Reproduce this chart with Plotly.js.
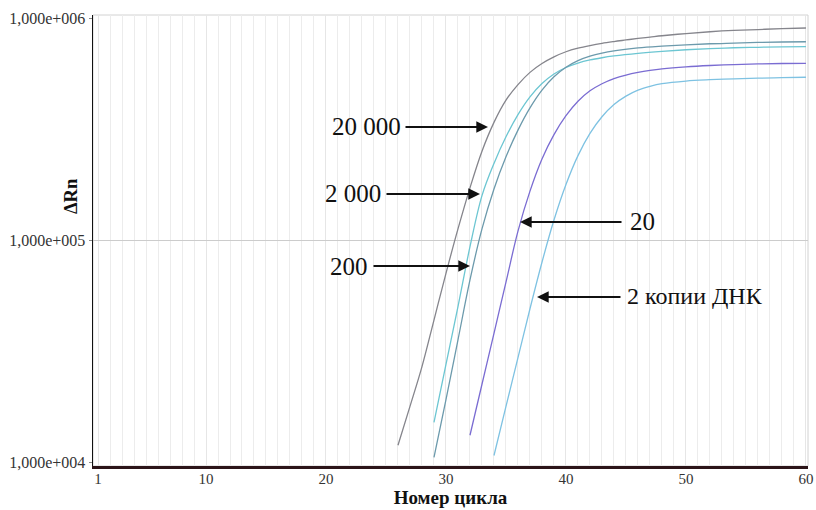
<!DOCTYPE html>
<html><head><meta charset="utf-8">
<script src="https://cdn.plot.ly/plotly-3.0.1.min.js"></script>
<style>html,body{margin:0;padding:0;background:#fff}#chart{width:816px;height:510px}</style>
</head><body><div id="chart"></div>
<script>
// Series: cycle numbers and ΔRn values
const cycles20000 = [26,27,28,29,30,31,32,33,34,35,36,37,38,39,40,41,42,43,44,45,46,47,48,50,52,54,56,58,60];
const rn20000 = [11900,17800,26900,43600,70800,112200,171800,251200,338800,426600,501200,568900,623700,668300,704700,731100,751600,769100,783400,796200,809100,820400,831800,851100,867000,879000,887200,895400,901600];

const cycles2000 = [29,30,31,32,33,34,35,36,37,38,39,40,41,42,43,44,46,48,50,52,54,56,58,60];
const rn2000 = [15100,27500,50100,93300,158500,221300,291700,367300,441600,507000,559800,598400,626600,647100,662200,674500,693400,707900,719400,727800,734500,737900,741300,743000];

const cycles200 = [29,30,31,32,33,34,35,36,37,38,39,40,41,42,43,44,46,48,50,52,54,56,58,60];
const rn200 = [10500,19100,35500,66100,112200,169800,237100,312600,393600,473200,543300,599800,642700,673000,695000,711200,732800,746400,756800,765600,770900,776200,779800,781600];

const cycles20 = [32,33,34,35,36,37,38,39,40,41,42,43,44,45,46,47,48,50,52,54,56,58,60];
const rn20 = [13200,22400,38000,64600,109600,166000,231700,298500,363100,421700,469900,505800,533300,553400,568900,580800,590200,602600,610900,616600,620900,623700,625200];

const cycles2 = [34,35,36,37,38,39,40,41,42,43,44,45,46,47,48,50,52,54,56,58,60];
const rn2 = [10700,17800,29500,49000,79400,123000,177800,239900,302000,358900,407400,444600,473200,492000,505800,520000,527200,532100,535800,538300,540800];

const xTicks = [1,10,20,30,40,50,60];
const yTicks = [1e4,1e5,1e6];
const yTickText = ['1,000e+004','1,000e+005','1,000e+006'];
const labels = ['20 000','2 000','200','20','2 копии ДНК'];

const serif = 'Liberation Serif, Times New Roman, serif';
function mk(x,y,color,ax){
  return {x:x,y:y,yaxis:ax,type:'scatter',mode:'lines',line:{color:color,width:1.3,shape:'spline',smoothing:1},hoverinfo:'skip',showlegend:false};
}
const traces = [
  mk(cycles20000, rn20000, '#85858c','y'),
  mk(cycles2000, rn2000, '#6cc6d2','y2'),
  mk(cycles200, rn200, '#6c9aac','y2'),
  mk(cycles20, rn20, '#7a6cd2','y2'),
  mk(cycles2, rn2, '#7ec2e2','y2')
];

// pixel -> paper helpers (plot area 93..808 x 15..466)
const PX = p => (p-93)/715;
const PY = p => (466-p)/451;

function arrow(tipX,tipY,ax){
  return {xref:'paper',yref:'paper',x:PX(tipX),y:PY(tipY),ax:ax,ay:0,text:'',showarrow:true,
    arrowhead:2,arrowsize:1.3,arrowwidth:1.8,arrowcolor:'#111',standoff:0,startstandoff:0};
}
function label(cx,cy,txt,anchor,size){
  return {xref:'paper',yref:'paper',x:PX(cx),y:PY(cy),text:txt,showarrow:false,xanchor:anchor||'center',yanchor:'middle',
    font:{family:serif,size:size||25,color:'#111'}};
}

const annotations = [
  arrow(488,127,-84), label(366,127,labels[0]),
  arrow(480,194,-95), label(353,193,labels[1]),
  arrow(470,266,-98), label(349,266,labels[2]),
  arrow(520,222,103), label(642,221,labels[3]),
  arrow(537,297,85), label(625,296,labels[4],'left',24),
  {xref:'paper',yref:'paper',x:PX(71),y:PY(196),text:'<b>ΔRn</b>',textangle:-90,showarrow:false,
   xanchor:'center',yanchor:'middle',font:{family:serif,size:18.5,color:'#111'}}
];

const layout = {
  width:816,height:510,
  margin:{l:93,r:8,t:15,b:44},
  paper_bgcolor:'#fff',plot_bgcolor:'#fff',
  showlegend:false,
  xaxis:{range:[0.583,60.17],tickvals:xTicks,ticktext:xTicks.map(String),showgrid:true,gridcolor:'#e6e6e6',
    minor:{dtick:1,tick0:0,showgrid:true,gridcolor:'#ececec',gridwidth:1},
    showline:true,linecolor:'#2b1418',linewidth:3,ticks:'',zeroline:false,ticklabelstandoff:-3,
    tickfont:{family:serif,size:15,color:'#333'},
    title:{text:'<b>Номер цикла</b>',font:{family:serif,size:19,color:'#111'},standoff:4}},
  yaxis:{type:'log',range:[3.982,6.0135],tickvals:yTicks,ticktext:yTickText,showgrid:false,
    showline:true,linecolor:'#111',linewidth:1.5,ticks:'outside',ticklen:3,tickcolor:'#888',zeroline:false,
    tickfont:{family:serif,size:16,color:'#333'}},
  yaxis2:{type:'log',range:[3.982,6.0135],overlaying:'y',tickvals:[1e5],showgrid:true,gridcolor:'#cccccc',
    showticklabels:false,showline:false,zeroline:false,ticks:''},
  shapes:[{type:'rect',xref:'paper',yref:'paper',x0:0,x1:1,y0:0,y1:1,line:{color:'#d2d2d2',width:1},layer:'below'}],
  annotations:annotations
};

Plotly.newPlot('chart',traces,layout,{staticPlot:true,displayModeBar:false});
</script>
</body></html>
